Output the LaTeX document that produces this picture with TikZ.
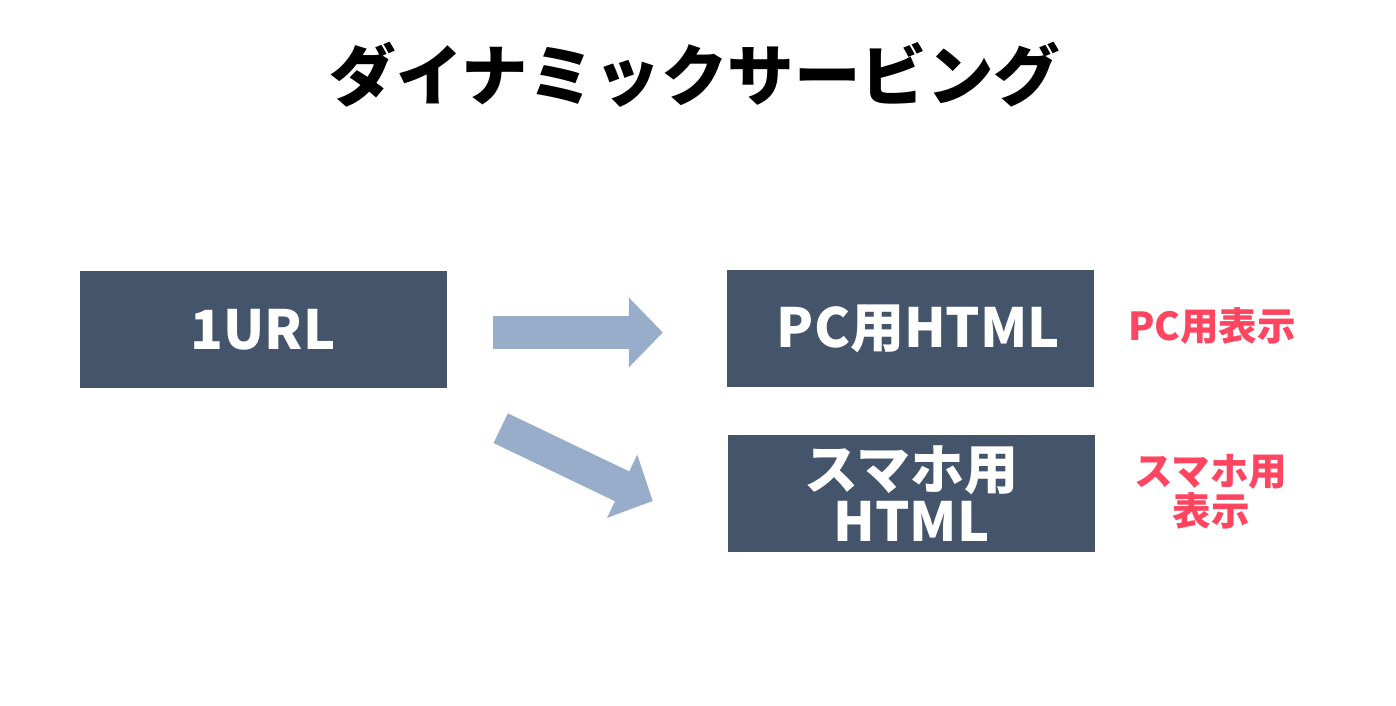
\documentclass[tikz,border=0pt]{standalone}
\usepackage{fontspec}
\setmainfont{Noto Sans CJK JP}
\usetikzlibrary{arrows.meta,positioning}
\definecolor{boxslate}{HTML}{44546A}
\definecolor{arrowblue}{HTML}{98ADCA}
\definecolor{notered}{HTML}{FF4560}

\begin{document}
\begin{tikzpicture}[
  x=1pt, y=-1pt,
  box/.style = {fill=boxslate, text=white, minimum width=367pt, minimum height=117pt, inner sep=0pt, align=center, font=\fontsize{54}{52}\selectfont\bfseries},
  note/.style = {text=notered, align=center, font=\fontsize{38.5}{40}\selectfont\bfseries},
  fat/.style = {draw=arrowblue, line width=33pt, -{Triangle[length=34pt, width=68pt, fill=arrowblue]}}
]
\useasboundingbox (0,0) rectangle (1396,706);
\node[font=\fontsize{66.5}{70}\selectfont\bfseries] (title) at (695,75) {ダイナミックサービング};

\node[box] (url) at (263,329.5) {1URL};
\node[box] (pc) at (910.5,328.5) {\hspace{16pt}PC用HTML};
\node[box] (sp) at (911.5,493.5) {スマホ用\\HTML};

\node[note] (pcnote) at (1212,326) {PC用表示};
\node[note] (spnote) at (1211,492) {スマホ用\\表示};

\draw[fat] ([shift={(46,3)}]url.east) -- ([shift={(-64,4)}]pc.west);
\draw[fat] ([shift={(54,40)}]url.south east) -- ([shift={(-75,7.5)}]sp.west);
\end{tikzpicture}
\end{document}
